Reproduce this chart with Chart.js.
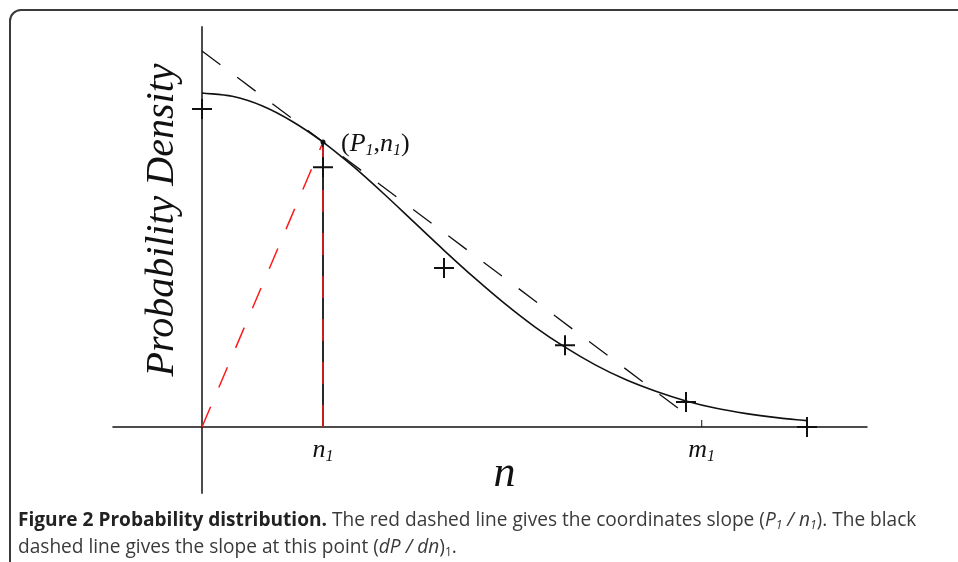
<!DOCTYPE html>
<html>
<head>
<meta charset="utf-8">
<script src="https://cdn.jsdelivr.net/npm/chart.js@4.4.0/dist/chart.umd.min.js"></script>
<style>
  body { margin: 0; background: #fff; }
  #wrap { position: relative; width: 958px; height: 562px; overflow: hidden; }
  #frame { position: absolute; left: 9px; top: 9px; width: 1000px; height: 620px;
           border: 2px solid #3a3a3a; border-radius: 12px; }
  #plot { position: absolute; left: 0; top: 0; }
  #caption { position: absolute; left: 18px; top: 506px; font-family: "Open Sans", sans-serif;
             font-size: 19.1px; line-height: 27px; color: #3a3a3a; white-space: nowrap; }
  #caption b { color: #222; }
  #caption sub { font-size: 12px; vertical-align: -3px; line-height: 0; }
</style>
</head>
<body>
<div id="wrap">
  <div id="frame"></div>
  <canvas id="plot" width="958" height="562"></canvas>
  <div id="caption"><b>Figure 2 Probability distribution.</b> The red dashed line gives the coordinates slope (<i>P<sub>1</sub> / n<sub>1</sub></i>). The black<br>dashed line gives the slope at this point (<i>dP / dn</i>)<sub>1</sub>.</div>
</div>
<script>
// values: n along x, probability density along y (peak = 1)
var curveN = [0, 0.25, 0.5, 0.75, 1, 1.25, 1.5, 1.75, 2, 2.25, 2.5, 2.75, 3, 3.25, 3.5, 3.75, 4, 4.25, 4.5, 4.75, 5];
var curveP = [1.000, 0.990, 0.961, 0.914, 0.853, 0.780, 0.699, 0.614, 0.529, 0.447, 0.370, 0.300, 0.239, 0.186, 0.142, 0.107, 0.078, 0.056, 0.040, 0.028, 0.019];
var sampleN = [0, 1, 2, 3, 4, 5];
var sampleP = [0.952, 0.778, 0.476, 0.245, 0.075, 0.0];
var tangentN = [0, 4.06];
var tangentP = [1.126, 0.022];
var pointN = 1, pointP = 0.853;
var m1N = 4.13, m1TickP = 0.021;
var xAxisN = [-0.74, 5.5];
var yAxisP = [-0.2, 1.2];

function pts(xs, ys) {
  return xs.map(function(x, i) { return {x: x, y: ys[i]}; });
}

var black = '#111';
var red = '#ff1a1a';

var datasets = [
  { data: pts(sampleN, sampleP), showLine: false, pointStyle: 'cross', pointRadius: 10,
    pointBorderWidth: 2, pointBorderColor: black, order: 0 },
  { data: [{x: pointN, y: pointP}], showLine: false, pointStyle: 'circle', pointRadius: 2.5,
    pointBackgroundColor: black, pointBorderColor: black, pointBorderWidth: 0, order: 1 },
  { data: pts([pointN, pointN], [0, pointP]), borderColor: red, borderWidth: 1.5, borderDash: [22, 21], order: 2 },
  { data: pts([pointN, pointN], [0, pointP]), borderColor: black, borderWidth: 1.8, order: 3 },
  { data: pts([0, pointN], [0, pointP]), borderColor: red, borderWidth: 1.5, borderDash: [22, 21], order: 4 },
  { data: pts(tangentN, tangentP), borderColor: black, borderWidth: 1.3, borderDash: [23, 21], order: 5 },
  { data: pts(curveN, curveP), borderColor: black, borderWidth: 1.6, cubicInterpolationMode: 'monotone', order: 6 },
  { data: pts(xAxisN, [0, 0]), borderColor: black, borderWidth: 1.5, order: 7 },
  { data: pts([0, 0], yAxisP), borderColor: black, borderWidth: 1.5, order: 8 },
  { data: pts([m1N, m1N], [0, m1TickP]), borderColor: black, borderWidth: 1, order: 9 }
];
datasets.forEach(function(d) {
  if (d.showLine === undefined) { d.showLine = true; d.pointRadius = 0; }
  d.fill = false;
});

var serif = '"Liberation Serif", "DejaVu Serif", serif';

// draws a row of text pieces (italic letters, subscripts) one after another
function drawRuns(ctx, x, y, runs, align) {
  var total = 0;
  runs.forEach(function(r) { ctx.font = r.font; total += ctx.measureText(r.t).width; });
  var cx = align === 'center' ? x - total / 2 : x;
  runs.forEach(function(r) {
    ctx.font = r.font;
    ctx.fillText(r.t, cx, y + (r.dy || 0));
    cx += ctx.measureText(r.t).width;
  });
}

var labelPlugin = {
  id: 'labels',
  afterDraw: function(chart) {
    var ctx = chart.ctx;
    var xs = chart.scales.x, ys = chart.scales.y;
    ctx.save();
    ctx.fillStyle = black;
    ctx.textBaseline = 'alphabetic';
    ctx.textAlign = 'left';

    var it = 'italic 26px ' + serif, up = '26px ' + serif, sub = 'italic 16px ' + serif;
    drawRuns(ctx, xs.getPixelForValue(pointN) + 18, ys.getPixelForValue(pointP) + 9, [
      {t: '(', font: up}, {t: 'P', font: it}, {t: '1', font: sub, dy: 4},
      {t: ',', font: up}, {t: 'n', font: it}, {t: '1', font: sub, dy: 4}, {t: ')', font: up}
    ], 'left');

    var lab = 'italic 26px ' + serif, labSub = 'italic 16px ' + serif;
    drawRuns(ctx, xs.getPixelForValue(pointN), ys.getPixelForValue(0) + 30,
      [{t: 'n', font: lab}, {t: '1', font: labSub, dy: 4}], 'center');
    drawRuns(ctx, xs.getPixelForValue(m1N), ys.getPixelForValue(0) + 30,
      [{t: 'm', font: lab}, {t: '1', font: labSub, dy: 4}], 'center');

    ctx.font = 'italic 44px ' + serif;
    ctx.textAlign = 'center';
    ctx.fillText('n', xs.getPixelForValue(2.5), ys.getPixelForValue(0) + 59);

    ctx.translate(xs.getPixelForValue(0) - 29, ys.getPixelForValue(0.62));
    ctx.rotate(-Math.PI / 2);
    ctx.font = 'italic 40px ' + serif;
    ctx.fillText('Probability Density', 0, 0);
    ctx.restore();
  }
};

new Chart(document.getElementById('plot'), {
  type: 'scatter',
  data: { datasets: datasets },
  options: {
    responsive: false,
    animation: false,
    events: [],
    layout: { padding: 0, autoPadding: false },
    scales: {
      x: { type: 'linear', display: false, min: -202 / 121, max: 756 / 121 },
      y: { type: 'linear', display: false, min: -135 / 334, max: 427 / 334 }
    },
    plugins: { legend: { display: false }, tooltip: { enabled: false } }
  },
  plugins: [labelPlugin]
});
</script>
</body>
</html>
